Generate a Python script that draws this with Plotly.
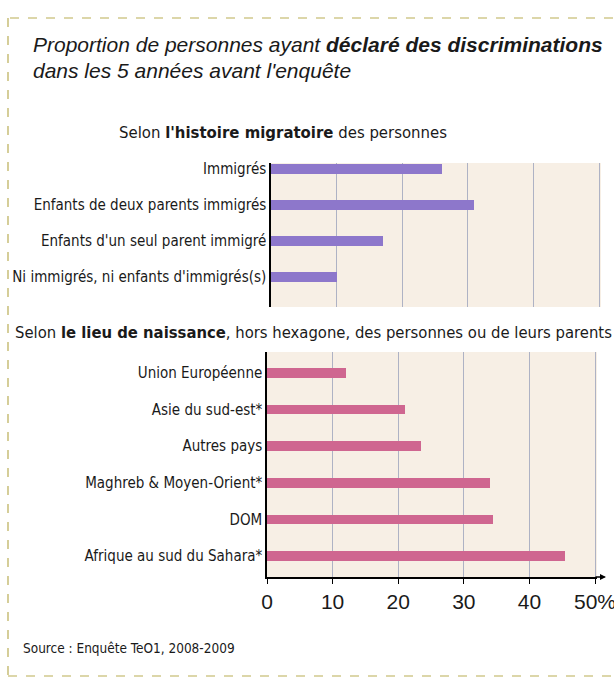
import plotly.graph_objects as go

W, H = 614, 684

# ---- data ----
hist_labels = ["Immigrés", "Enfants de deux parents immigrés",
               "Enfants d'un seul parent immigré", "Ni immigrés, ni enfants d'immigrés(s)"]
hist_values = [26, 31, 17, 10]

lieu_labels = ["Union Européenne", "Asie du sud-est*", "Autres pays",
               "Maghreb & Moyen-Orient*", "DOM", "Afrique au sud du Sahara*"]
lieu_values = [12, 21, 23.5, 34, 34.5, 45.5]

x_tickvals = [0, 10, 20, 30, 40, 50]
x_ticktext = ["0", "10", "20", "30", "40", "50%"]

# ---- layout helpers (pixel -> paper) ----
def px(x):
    return x / W

def py(y):
    return 1 - y / H

NARROW = "DejaVu Sans Condensed, Liberation Sans Narrow, Arial Narrow, sans-serif"
SANS = "Liberation Sans, Arial, Helvetica, sans-serif"
BG = "#f7efe5"
GRID = "#aeb2c4"
XMAX = 50.3

fig = go.Figure()

fig.add_trace(go.Bar(
    x=hist_values, y=hist_labels, orientation="h",
    marker=dict(color="#8d77cb", line=dict(width=0)),
    width=0.27, xaxis="x", yaxis="y", showlegend=False,
))
fig.add_trace(go.Bar(
    x=lieu_values, y=lieu_labels, orientation="h",
    marker=dict(color="#cf6690", line=dict(width=0)),
    width=0.27, xaxis="x2", yaxis="y2", showlegend=False,
))

common_x = dict(range=[0, XMAX], showgrid=True, gridcolor=GRID, gridwidth=1,
                zeroline=False, fixedrange=True, automargin=False)

def dom(x0, x50):
    return [px(x0), px(x0 + (x50 - x0) * XMAX / 50)]

fig.update_layout(
    width=W, height=H,
    margin=dict(l=0, r=0, t=0, b=0, autoexpand=False),
    paper_bgcolor="white",
    plot_bgcolor=BG,
    bargap=0,
    xaxis=dict(domain=dom(271, 599), anchor="y", showticklabels=False,
               showline=False, ticks="", tickvals=x_tickvals, **common_x),
    yaxis=dict(domain=[py(307), py(163)], anchor="x", type="category",
               categoryorder="array", categoryarray=hist_labels, automargin=False,
               range=[3.83, -0.17], showline=True, linecolor="black", linewidth=1.5,
               ticks="", ticklen=0, showgrid=False, zeroline=False,
               tickfont=dict(family=NARROW, size=15, color="#1a1a1a")),
    xaxis2=dict(domain=dom(267, 595), anchor="y2", showline=True,
                linecolor="black", linewidth=1.5, ticks="outside", ticklen=5,
                tickcolor="black", tickvals=x_tickvals, ticktext=x_ticktext,
                ticklabeloverflow="allow",
                tickfont=dict(family=SANS, size=21, color="#1a1a1a"), **common_x),
    yaxis2=dict(domain=[py(577), py(352)], anchor="x2", type="category",
                categoryorder="array", categoryarray=lieu_labels, automargin=False,
                range=[5.57, -0.57], showline=True, linecolor="black", linewidth=1.5,
                ticks="", ticklen=0, showgrid=False, zeroline=False,
                tickfont=dict(family=NARROW, size=15, color="#1a1a1a")),
)

annotations = [
    dict(text="<i>Proportion de personnes ayant <b>déclaré des discriminations</b></i>",
         x=px(31), y=py(45), xanchor="left", yanchor="middle", align="left",
         font=dict(family=SANS, size=21, color="#1a1a1a")),
    dict(text="<i>dans les 5 années avant l'enquête</i>",
         x=px(31), y=py(71), xanchor="left", yanchor="middle", align="left",
         font=dict(family=SANS, size=21, color="#1a1a1a")),
    dict(text="Selon <b>l'histoire migratoire</b> des personnes",
         x=px(117), y=py(133), xanchor="left", yanchor="middle",
         font=dict(family=NARROW, size=16.6, color="#1a1a1a")),
    dict(text="Selon <b>le lieu de naissance</b>, hors hexagone, des personnes ou de leurs parents",
         x=px(13), y=py(332), xanchor="left", yanchor="middle",
         font=dict(family=NARROW, size=16.5, color="#1a1a1a")),
    dict(text="Source : Enquête TeO1, 2008-2009",
         x=px(21), y=py(648), xanchor="left", yanchor="middle",
         font=dict(family=NARROW, size=13.5, color="#1a1a1a")),
]
for a in annotations:
    a.update(xref="paper", yref="paper", showarrow=False)
fig.update_layout(annotations=annotations)

# axis arrow at the end of the bottom x axis
fig.add_annotation(xref="paper", yref="paper", x=px(606), y=py(577),
                   ax=-12, ay=0, axref="pixel", ayref="pixel",
                   text="", showarrow=True, arrowhead=2, arrowsize=0.8,
                   arrowwidth=1.5, arrowcolor="black")

# dashed frame
dash_col = "#b9ad55"
shapes = [
    dict(type="line", x0=px(10), x1=1, y0=py(18), y1=py(18)),
    dict(type="line", x0=px(8), x1=px(8), y0=py(18), y1=py(676)),
    dict(type="line", x0=px(8), x1=1, y0=py(676), y1=py(676)),
]
for s in shapes:
    s.update(xref="paper", yref="paper", line=dict(color=dash_col, width=1.2, dash="dash"))
fig.update_layout(shapes=shapes)

fig.write_html("out.html", config={"displayModeBar": False},
               post_script="document.body.style.margin='0px';"
                           "document.body.style.overflow='hidden';")
